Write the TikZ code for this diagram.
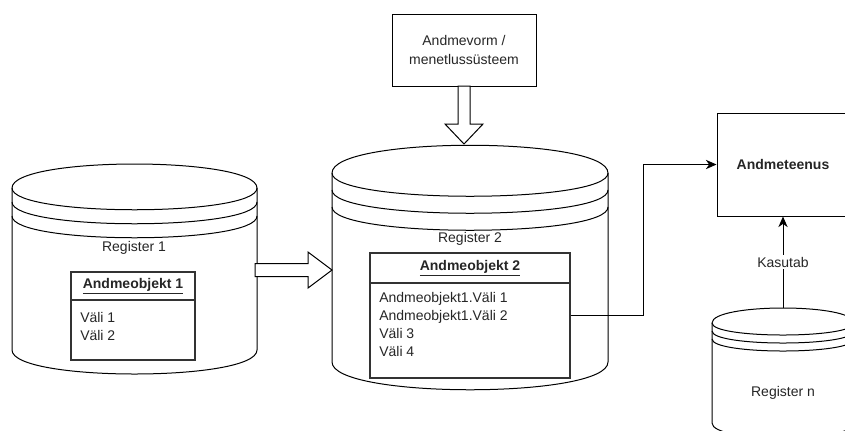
\documentclass[tikz,border=0pt]{standalone}
\usepackage{fontspec}
\setmainfont{Liberation Sans}
\usepackage{xcolor}
\usetikzlibrary{arrows.meta, positioning, calc}

\newcommand{\regshape}[7]{%
  \draw[line width=0.75pt, fill=white] (#1,#3) .. controls (#1,#3-#5) and (#2,#3-#5) .. (#2,#3)
    -- (#2,#7) .. controls (#2,#7+#5) and (#1,#7+#5) .. (#1,#7) -- cycle;
  \draw[line width=0.75pt] (#1,#3) .. controls (#1,#3+#6) and (#2,#3+#6) .. (#2,#3);
  \draw[line width=0.75pt] (#1,#3+#4) .. controls (#1,#3+#4+#6) and (#2,#3+#4+#6) .. (#2,#3+#4);
  \draw[line width=0.75pt] (#1,#3+2*#4) .. controls (#1,#3+2*#4+#6) and (#2,#3+2*#4+#6) .. (#2,#3+2*#4);
}

\tikzset{
  box/.style={draw, line width=0.75pt, fill=white, align=center, inner sep=2pt},
  objbox/.style={draw=black!80, line width=0.9pt, fill=white},
  fieldtxt/.style={align=left, anchor=west, inner sep=0pt},
  lbl/.style={fill=white, inner sep=1.5pt},
  arr/.style={line width=0.75pt, -{Stealth[length=8pt, width=7pt, inset=2.5pt]}},
  blockarr/.style={draw, line width=0.75pt, fill=white}
}

\begin{document}
\begin{tikzpicture}[x=0.75pt, y=-0.75pt,
    every node/.style={font=\fontsize{10.5}{13.5}\selectfont, text=black!85}]
  \useasboundingbox (0,0) rectangle (845,430);

  \regshape{12}{257}{188}{14}{32}{29}{350}
  \regshape{332}{608}{173}{17}{37}{31}{362}
  \regshape{712}{854}{323}{8}{20}{16}{423}

  \node (reg1) at (134,248) {Register 1};
  \node (reg2) at (470,239) {Register 2};
  \node (regn) at (783,393) {Register n};

  \node[objbox, minimum width=93pt, minimum height=66pt] (obj1) at (133,316) {};
  \draw[line width=0.9pt, black!80] (obj1.west |- 0,300) -- (obj1.east |- 0,300);
  \node (obj1title) at (133,286) {\underline{\textbf{Andmeobjekt 1}}};
  \node[fieldtxt] (obj1f) at (80,326) {Väli 1\\Väli 2};

  \node[objbox, minimum width=150pt, minimum height=93.75pt] (obj2) at (470,315.5) {};
  \draw[line width=0.9pt, black!80] (obj2.west |- 0,283) -- (obj2.east |- 0,283);
  \node (obj2title) at (470,268) {\underline{\textbf{Andmeobjekt 2}}};
  \node[fieldtxt] (obj2f) at (379,324.5) {Andmeobjekt1.Väli 1\\Andmeobjekt1.Väli 2\\Väli 3\\Väli 4};

  \node[box, minimum width=108pt, minimum height=54pt, font=\fontsize{10.5}{14.25}\selectfont] (form) at (464,50) {Andmevorm /\\menetlussüsteem};
  \node[box, minimum width=99pt, minimum height=77.25pt] (srv) at (783,164.5) {\textbf{Andmeteenus}};

  \draw[blockarr] (458,86) -- (470,86) -- (470,124) -- (483,124) -- (464,144)
    -- (445,124) -- (458,124) -- cycle;
  \draw[blockarr] (255,263.5) -- (308,263.5) -- (308,252) -- (332,270) -- (308,288)
    -- (308,276.5) -- (255,276.5) -- cycle;

  \coordinate (regntop) at (783,308);
  \draw[arr] (obj2.east) -- ++(54.75pt,0) |- (srv.west);
  \draw[arr] (regntop) -- node[lbl] (use) {Kasutab} (srv.south);
\end{tikzpicture}
\end{document}
